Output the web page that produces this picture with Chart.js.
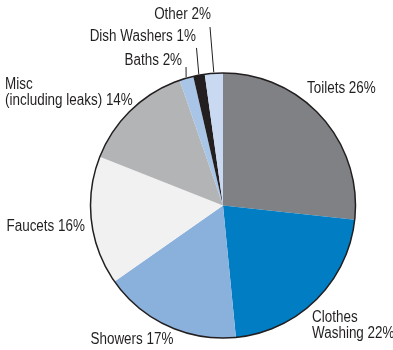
<!DOCTYPE html>
<html>
<head>
<meta charset="utf-8">
<script src="https://cdn.jsdelivr.net/npm/chart.js@4.4.1/dist/chart.umd.min.js"></script>
<style>
html,body{margin:0;padding:0;background:#fff;}
#wrap{width:393px;height:350px;position:relative;}
</style>
</head>
<body>
<div id="wrap"><canvas id="c"></canvas></div>
<script>
const categories = ["Toilets", "Clothes Washing", "Showers", "Faucets", "Misc (including leaks)", "Baths", "Dish Washers", "Other"];
const values = [26.7, 21.7, 16.8, 15.7, 13.7, 1.7, 1.4, 2.2];
const labelLines = [["Toilets 26%"], ["Clothes", "Washing 22%"], ["Showers 17%"], ["Faucets 16%"], ["Misc", "(including leaks) 14%"], ["Baths 2%"], ["Dish Washers 1%"], ["Other 2%"]];
const colors = ["#808184", "#007DC3", "#8AB0DC", "#F1F1F2", "#B2B4B6", "#A8C4E6", "#231F20", "#C8D9F1"];

// label placement in units of radius relative to pie centre: [x, y, align, leaderX, leaderY]
const labelLayout = [
  [0.634, -0.879, "left"],
  [0.672, 0.849, "left"],
  [-1.0, 1.015, "left"],
  [-1.042, 0.162, "right"],
  [-1.645, -0.909, "left"],
  [-0.309, -1.091, "right", -0.279, -1.045],
  [-0.204, -1.272, "right", -0.200, -1.189],
  [-0.091, -1.438, "right", -0.098, -1.347]
];

const FONT = '16px "Liberation Sans", Arial, sans-serif';
const SQUEEZE = 0.84;

const labelPlugin = {
  id: 'pieLabels',
  afterDatasetsDraw(chart) {
    const ctx = chart.ctx;
    const meta = chart.getDatasetMeta(0);
    const a0 = meta.data[0];
    const cx = a0.x, cy = a0.y, R = a0.outerRadius;
    ctx.save();
    ctx.beginPath();
    ctx.arc(cx, cy, R, 0, Math.PI * 2);
    ctx.strokeStyle = "#231F20";
    ctx.lineWidth = 1.5;
    ctx.stroke();
    ctx.font = FONT;
    ctx.fillStyle = "#231F20";
    ctx.textBaseline = "middle";
    meta.data.forEach((arc, i) => {
      const L = labelLayout[i];
      const x = cx + L[0] * R, y = cy + L[1] * R;
      ctx.textAlign = L[2];
      labelLines[i].forEach((t, k) => {
        ctx.save();
        ctx.translate(x, y + k * 16);
        ctx.scale(SQUEEZE, 1);
        ctx.fillText(t, 0, 0);
        ctx.restore();
      });
      if (L.length > 3) {
        const mid = (arc.startAngle + arc.endAngle) / 2;
        const ex = cx + Math.cos(mid) * (R + 1), ey = cy + Math.sin(mid) * (R + 1);
        ctx.beginPath();
        ctx.moveTo(cx + L[3] * R, cy + L[4] * R);
        ctx.lineTo(ex, ey);
        ctx.lineWidth = 1;
        ctx.strokeStyle = "#231F20";
        ctx.stroke();
      }
    });
    ctx.restore();
  }
};

new Chart(document.getElementById('c'), {
  type: 'pie',
  data: {
    labels: categories,
    datasets: [{ data: values, backgroundColor: colors, borderWidth: 0 }]
  },
  options: {
    responsive: true,
    maintainAspectRatio: false,
    animation: false,
    layout: { padding: { top: 73, bottom: 12, left: 90.5, right: 37.5 } },
    plugins: { legend: { display: false }, tooltip: { enabled: false } }
  },
  plugins: [labelPlugin]
});
</script>
</body>
</html>
